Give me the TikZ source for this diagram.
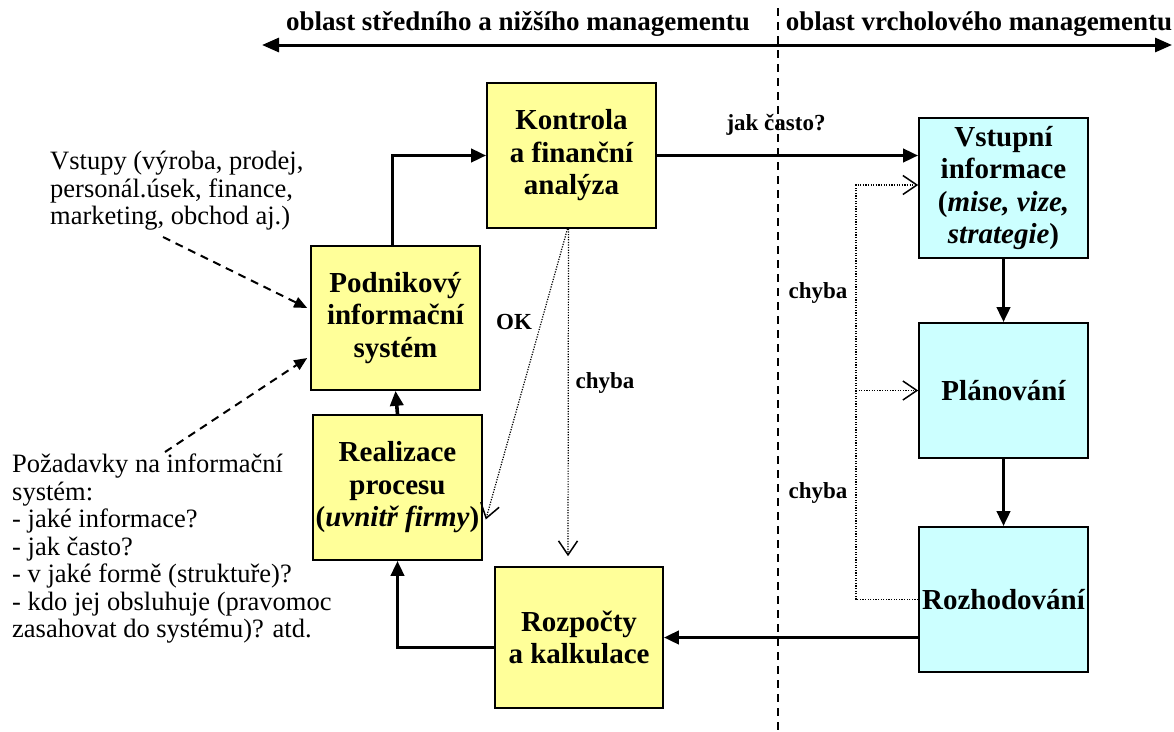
\documentclass[tikz,border=0pt]{standalone}
\usepackage{fontspec}
\setmainfont{Liberation Serif}
\usetikzlibrary{arrows.meta,calc}
\definecolor{ybox}{HTML}{FFFF99}
\definecolor{cbox}{HTML}{CCFFFF}
\begin{document}
\begin{tikzpicture}[x=1pt,y=-1pt,
  box/.style={draw=black,line width=1.6pt,minimum width=169pt,inner sep=0pt,align=center,
    font=\fontsize{29}{32.5}\selectfont\bfseries},
  yb/.style={box,fill=ybox},
  cb/.style={box,fill=cbox},
  flow/.style={line width=3.6pt,-{Triangle[length=15pt,width=13pt]}},
  dotarrow/.style={line width=1.2pt,dash pattern=on 1.2pt off 1.4pt,
    -{Straight Barb[length=14pt,width=19pt,line width=1.5pt]}},
  dotline/.style={line width=1.2pt,dash pattern=on 1.2pt off 1.4pt},
  dasharrow/.style={line width=2pt,dash pattern=on 8pt off 6pt,-{Triangle[length=13pt,width=11pt]}},
  lbl/.style={font=\fontsize{23}{26}\selectfont\bfseries,inner sep=0pt},
  note/.style={align=left,inner sep=0pt,anchor=north west,font=\fontsize{26.5}{27.5}\selectfont},
  head/.style={font=\fontsize{27}{30}\selectfont\bfseries,inner sep=0pt}
]
\useasboundingbox (0,0) rectangle (1174,731);

% header
\coordinate (hl) at (262,45);
\coordinate (hr) at (1172,45);
\draw[line width=3pt,{Triangle[length=17pt,width=14pt]}-{Triangle[length=17pt,width=14pt]}] (hl) -- (hr);
\node[head] (h1) at (518,24) {oblast středního a nižšího managementu};
\node[head] (h2) at (979,24) {oblast vrcholového managementu};
\coordinate (vt) at (778,8);
\coordinate (vb) at (778,731);
\draw[line width=1.5pt,dash pattern=on 8pt off 6pt] (vt) -- (vb);

% boxes
\node[yb,minimum height=145pt] (kon) at (571.5,155.5) {Kontrola\\a finanční\\analýza};
\node[yb,minimum height=144pt] (pis) at (395.5,318) {Podnikový\\informační\\systém};
\node[yb,minimum height=145pt] (rea) at (397.5,487.5) {Realizace\\procesu\\(\textit{uvnitř firmy})};
\node[yb,minimum width=168pt,minimum height=141pt] (roz) at (579,637.5) {Rozpočty\\a kalkulace};
\node[cb,minimum height=140pt] (vst) at (1003.5,188) {Vstupní\\informace\\(\textit{mise, vize,}\\\textit{strategie})};
\node[cb,minimum height=135pt] (pla) at (1003.5,390.5) {Plánování};
\node[cb,minimum height=145pt] (rozh) at (1003.5,599.5) {Rozhodování};

% notes
\node[note] (vs) at (50,151) {Vstupy (výroba, prodej,\\personál.úsek, finance,\\marketing, obchod aj.)};
\node[note] (pz) at (12,454) {Požadavky na informační\\systém:\\- jaké informace?\\- jak často?\\- v jaké formě (struktuře)?\\- kdo jej obsluhuje (pravomoc\\zasahovat do systému)? atd.};
\coordinate (d1) at (163,237);
\coordinate (d2) at (165,452);
\draw[dasharrow] (d1) -- ([yshift=10pt,xshift=-3pt]pis.west);
\draw[dasharrow] (d2) -- ([yshift=-40pt,xshift=-3pt]pis.west);

% thick flows
\draw[flow] ([xshift=-3pt]pis.north) |- (kon.west);
\draw[flow] (rea.north) -- (pis.south);
\draw[flow] ([yshift=-10pt]roz.west) -| (rea.south);
\draw[flow] (kon.east) -- (kon.east -| vst.west);
\draw[flow] (vst.south) -- (pla.north);
\draw[flow] (pla.south) -- (rozh.north);
\draw[flow] (rozh.west |- roz.east) -- (roz.east);
\node[lbl] (jc) at (776,125) {jak často?};

% dotted feedback
\draw[dotarrow] ([xshift=-4pt]kon.south) -- ([xshift=3pt,yshift=-32pt]rea.east);
\draw[dotarrow] ([xshift=-3pt]kon.south) -- ([xshift=-11pt,yshift=10pt]roz.north);
\node[lbl] (ok) at (514,322) {OK};
\node[lbl] (ch1) at (605,383) {chyba};

\coordinate (br) at (856,599.5);
\draw[dotline] (rozh.west) -- (br);
\draw[dotarrow] (br) |- ([yshift=3pt]vst.west);
\draw[dotarrow] (br |- pla.west) -- (pla.west);
\node[lbl] (ch2) at (818,293) {chyba};
\node[lbl] (ch3) at (818,493) {chyba};
\end{tikzpicture}
\end{document}
